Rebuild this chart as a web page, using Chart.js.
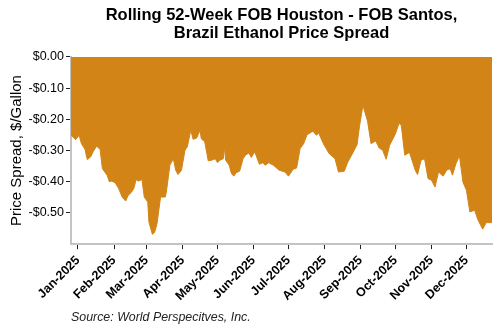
<!DOCTYPE html>
<html lang="en">
<head>
    <meta charset="UTF-8">
    <title>FOB Houston - FOB Santos Ethanol Spread</title>
    <script src="https://cdn.jsdelivr.net/npm/chart.js"></script>
    <style>
        body { margin: 0; background: #fff; }
        .chart-box { width: 500px; height: 330px; }
    </style>
</head>
<body>
    <div class="chart-box">
        <canvas id="spreadChart" width="500" height="330"></canvas>
    </div>

    <script>
        // Month tick labels and their day offsets from 1 Jan 2025
        const monthLabels = ['Jan-2025', 'Feb-2025', 'Mar-2025', 'Apr-2025', 'May-2025', 'Jun-2025',
                             'Jul-2025', 'Aug-2025', 'Sep-2025', 'Oct-2025', 'Nov-2025', 'Dec-2025'];
        const monthStarts = [0, 31, 59, 90, 120, 151, 181, 212, 243, 273, 304, 334];

        // Spread observations: day offset from 1 Jan 2025 and $/gallon
        const dayOffsets = [-6, -2, 1, 3, 6, 8, 11, 13, 16, 19, 21, 25, 27, 29, 32, 35, 38, 41, 43, 46,
                            48, 50, 52, 55, 57, 60, 61, 64, 66, 68, 71, 75, 76, 79, 82, 84, 86, 89, 92, 94,
                            97, 99, 102, 105, 106, 109, 112, 115, 118, 120, 122, 125, 126, 127, 130, 132, 134, 136, 139, 142,
                            144, 147, 149, 152, 156, 159, 161, 164, 168, 173, 178, 181, 185, 188, 191, 194, 197, 202, 205, 207,
                            211, 216, 221, 224, 229, 232, 236, 240, 242, 245, 249, 252, 256, 259, 262, 265, 268, 273, 276, 278,
                            281, 285, 290, 292, 295, 298, 301, 304, 307, 310, 314, 317, 320, 322, 325, 328, 331, 334, 337, 341,
                            344, 348, 351, 356];
        const spreadValues = [-0.251, -0.265, -0.251, -0.278, -0.296, -0.329, -0.320, -0.304, -0.286, -0.296,
                              -0.358, -0.379, -0.400, -0.398, -0.403, -0.422, -0.449, -0.462, -0.445, -0.433,
                              -0.422, -0.393, -0.398, -0.393, -0.449, -0.465, -0.529, -0.569, -0.561, -0.534,
                              -0.449, -0.449, -0.433, -0.347, -0.326, -0.363, -0.377, -0.363, -0.299, -0.288,
                              -0.235, -0.264, -0.260, -0.235, -0.262, -0.272, -0.333, -0.331, -0.326, -0.339,
                              -0.331, -0.326, -0.290, -0.331, -0.347, -0.374, -0.382, -0.371, -0.366, -0.326,
                              -0.315, -0.308, -0.322, -0.304, -0.344, -0.339, -0.347, -0.339, -0.347, -0.363,
                              -0.369, -0.382, -0.360, -0.356, -0.294, -0.278, -0.249, -0.238, -0.251, -0.244,
                              -0.278, -0.310, -0.326, -0.369, -0.366, -0.337, -0.310, -0.281, -0.224, -0.155,
                              -0.206, -0.278, -0.269, -0.292, -0.299, -0.328, -0.283, -0.246, -0.213, -0.219,
                              -0.315, -0.306, -0.363, -0.377, -0.331, -0.326, -0.390, -0.395, -0.417, -0.369,
                              -0.382, -0.363, -0.358, -0.379, -0.342, -0.317, -0.401, -0.427, -0.497, -0.491,
                              -0.523, -0.552, -0.531, -0.531];

        const yTicks = [0, -0.1, -0.2, -0.3, -0.4, -0.5];

        const points = dayOffsets.map((d, i) => ({ x: d, y: spreadValues[i] }));

        const fmtDollar = v => (v < 0 ? '-$' : '$') + Math.abs(v).toFixed(2);
        const FONT = 'Liberation Sans, Arial, sans-serif';

        const ctx = document.getElementById('spreadChart').getContext('2d');
        new Chart(ctx, {
            type: 'line',
            data: {
                datasets: [{
                    data: points,
                    backgroundColor: '#D38417',
                    borderColor: '#D38417',
                    borderWidth: 1,
                    pointRadius: 0,
                    fill: 'origin',
                    tension: 0
                }]
            },
            options: {
                responsive: false,
                animation: false,
                layout: { padding: { left: 0, right: 8, top: 0, bottom: 0 } },
                plugins: {
                    legend: { display: false },
                    tooltip: { enabled: false },
                    title: {
                        display: true,
                        fullSize: false,
                        text: ['Rolling 52-Week FOB Houston - FOB Santos,', 'Brazil Ethanol Price Spread'],
                        color: '#000',
                        font: { family: FONT, size: 16.5, weight: 'bold', lineHeight: 1.06 },
                        padding: { top: 7, bottom: 15 }
                    },
                    subtitle: {
                        display: true,
                        fullSize: false,
                        position: 'bottom',
                        align: 'start',
                        text: 'Source: World Perspecitves, Inc.',
                        color: '#222',
                        font: { family: FONT, size: 12.4, style: 'italic' },
                        padding: { top: 0, bottom: 5 }
                    }
                },
                scales: {
                    x: {
                        type: 'linear',
                        min: -6,
                        max: 356,
                        afterBuildTicks: scale => { scale.ticks = monthStarts.map(v => ({ value: v })); },
                        afterFit: scale => { scale.height = 66; },
                        ticks: {
                            autoSkip: false,
                            minRotation: 45,
                            maxRotation: 45,
                            color: '#000',
                            padding: 4,
                            font: { family: FONT, size: 12.5, weight: 'bold' },
                            callback: v => monthLabels[monthStarts.indexOf(v)]
                        },
                        grid: { drawOnChartArea: false, drawTicks: true, tickLength: 5, color: '#222' },
                        border: { color: '#c4c4c4', width: 2 }
                    },
                    y: {
                        min: -0.6,
                        max: 0,
                        afterBuildTicks: scale => { scale.ticks = yTicks.map(v => ({ value: v })); },
                        afterFit: scale => { scale.width = 71; },
                        title: {
                            display: true,
                            text: 'Price Spread, $/Gallon',
                            color: '#000',
                            font: { family: FONT, size: 15 },
                            padding: { top: 8, bottom: 0 }
                        },
                        ticks: {
                            color: '#000',
                            padding: 2,
                            font: { family: FONT, size: 12.5 },
                            callback: v => fmtDollar(v)
                        },
                        grid: { drawOnChartArea: false, drawTicks: true, tickLength: 5, color: '#222' },
                        border: { color: '#c4c4c4', width: 2 }
                    }
                }
            }
        });
    </script>
</body>
</html>
